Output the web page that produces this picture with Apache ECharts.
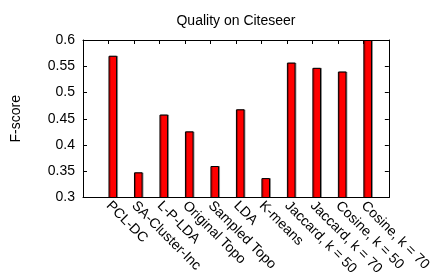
<!DOCTYPE html>
<html><head><meta charset="utf-8">
<script src="https://cdn.jsdelivr.net/npm/echarts@6/dist/echarts.min.js"></script>
<style>html,body{margin:0;padding:0;background:#fff}#c{width:434px;height:278px}</style>
</head><body><div id="c"></div>
<script>
const categories = ['PCL-DC','SA-Cluster-Inc','L-P-LDA','Original Topo','Sampled Topo','LDA','K-means','Jaccard, k = 50','Jaccard, k = 70','Cosine, k = 50','Cosine, k = 70'];
const fscore = [0.57, 0.348, 0.458, 0.426, 0.36, 0.468, 0.337, 0.557, 0.547, 0.54, 0.6];
const yTicks = [0.3, 0.35, 0.4, 0.45, 0.5, 0.55, 0.6];

const axisCats = [''].concat(categories, ['']);
const barData = [null].concat(fscore, [null]);
const dummy = axisCats.map(() => null);
const font = 'Liberation Sans, Arial, sans-serif';

const chart = echarts.init(document.getElementById('c'), null, {renderer: 'canvas'});
chart.setOption({
  animation: false,
  title: {text: 'Quality on Citeseer', left: 231, top: 9, textAlign: 'center',
    textStyle: {fontFamily: font, fontSize: 14, fontWeight: 'normal', color: '#000'}},
  grid: {left: 83, right: 43, top: 40, bottom: 79},
  xAxis: [{
    type: 'category', data: axisCats, boundaryGap: false, position: 'bottom',
    axisLine: {lineStyle: {color: '#000', width: 1}},
    axisTick: {show: false},
    axisLabel: {rotate: -45, interval: 0, fontFamily: font, fontSize: 14, color: '#000', margin: 6}
  }, {
    type: 'category', data: axisCats, boundaryGap: false, position: 'top',
    axisLine: {show: true, onZero: false, lineStyle: {color: '#000', width: 1}},
    axisTick: {show: true, inside: true, length: 4, interval: 0, lineStyle: {color: '#000'}},
    axisLabel: {show: false}
  }],
  yAxis: [{
    type: 'value', min: 0.3, max: 0.6, interval: 0.05, position: 'left',
    name: 'F-score', nameLocation: 'middle', nameGap: 60, nameRotate: 90,
    nameTextStyle: {fontFamily: font, fontSize: 14, color: '#000'},
    axisLine: {show: true, lineStyle: {color: '#000', width: 1}},
    axisTick: {show: true, inside: true, length: 4, lineStyle: {color: '#000'}},
    axisLabel: {fontFamily: font, fontSize: 14, color: '#000', margin: 8,
      formatter: v => { const t = yTicks.find(x => Math.abs(x - v) < 1e-9); return t === undefined ? '' : String(t); }},
    splitLine: {show: false}
  }, {
    type: 'value', min: 0.3, max: 0.6, interval: 0.05, position: 'right',
    axisLine: {show: true, lineStyle: {color: '#000', width: 1}},
    axisTick: {show: true, inside: true, length: 4, lineStyle: {color: '#000'}},
    axisLabel: {show: false}, splitLine: {show: false}
  }],
  series: [{
    type: 'bar', data: dummy, barWidth: 8.6, barGap: '0%', itemStyle: {color: 'transparent'}, silent: true
  }, {
    type: 'bar', data: barData, barWidth: 8.6, barGap: '0%',
    itemStyle: {color: '#ff0000', borderColor: '#000', borderWidth: 1,
      shadowColor: 'rgba(0,0,0,0.35)', shadowOffsetX: 1, shadowOffsetY: 0, shadowBlur: 0}
  }]
});
</script></body></html>
